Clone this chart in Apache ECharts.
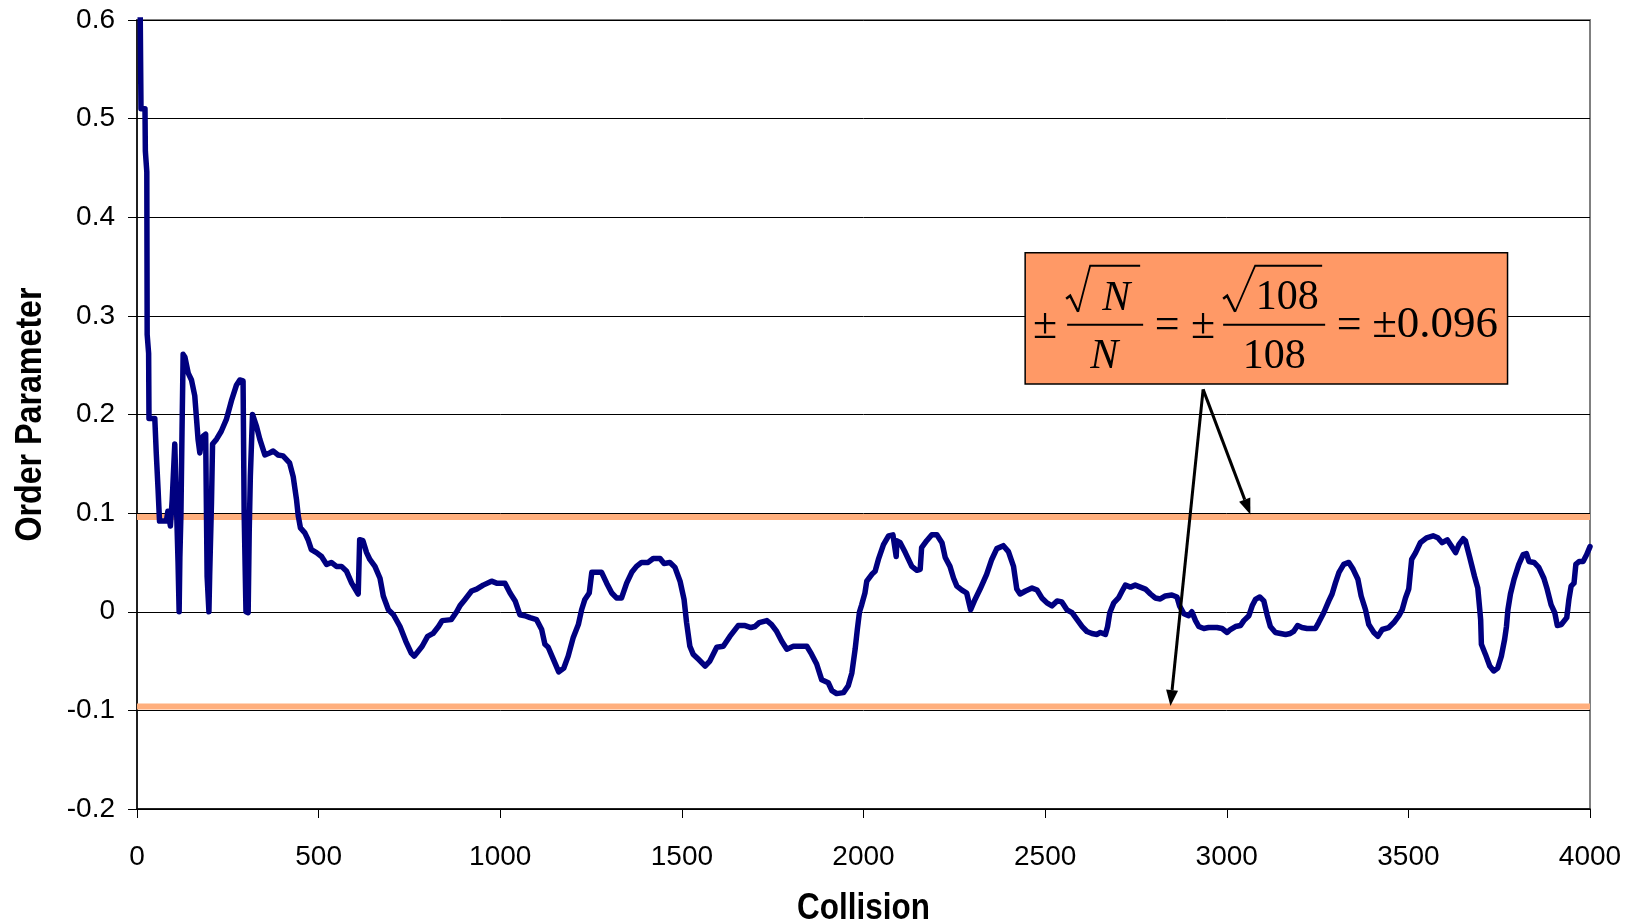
<!DOCTYPE html>
<html>
<head>
<meta charset="utf-8">
<title>Order Parameter vs Collision</title>
<script src="https://cdn.jsdelivr.net/npm/echarts@6/dist/echarts.min.js"></script>
<style>
  html, body { margin: 0; padding: 0; background: #fff; }
  #chart { width: 1629px; height: 924px; }
</style>
</head>
<body>
<div id="chart"></div>
<script>
// Axis ranges and tick spacing
const xTicks = { min: 0, max: 4000, step: 500 };
const yTicks = { min: -0.2, max: 0.6, step: 0.1 };

// Axis titles
const xTitle = 'Collision';
const yTitle = 'Order Parameter';

// Statistical band: ±sqrt(N)/N with N = 108
const bandLevels = [0.096, -0.096];

// Order parameter trace: [collision, order parameter]
const orderParameter = [
  [0, 1.0], [11, 0.51], [22, 0.51], [23, 0.467], [27, 0.446], [28, 0.281], [32, 0.262], [33, 0.196],
  [49, 0.196], [53, 0.161], [58, 0.124], [61, 0.10], [62, 0.092], [81, 0.092], [85, 0.102], [92, 0.087],
  [97, 0.114], [104, 0.17], [108, 0.168], [113, 0.05], [116, 0.0], [118, 0.055], [121, 0.10], [124, 0.185],
  [127, 0.261], [132, 0.258], [141, 0.242], [150, 0.235], [159, 0.219], [164, 0.195], [168, 0.175], [173, 0.161],
  [177, 0.171], [182, 0.178], [189, 0.18], [193, 0.036], [198, 0.0], [200, 0.036], [205, 0.11], [208, 0.17],
  [219, 0.175], [232, 0.183], [246, 0.195], [260, 0.214], [274, 0.23], [283, 0.235], [292, 0.234], [295, 0.10],
  [300, 0.0], [306, -0.001], [309, 0.083], [312, 0.137], [318, 0.2], [329, 0.188], [338, 0.175], [352, 0.159],
  [365, 0.161], [375, 0.163], [388, 0.159], [402, 0.158], [420, 0.151], [430, 0.137], [439, 0.114], [444, 0.097],
  [450, 0.085], [462, 0.080], [471, 0.073], [480, 0.063], [494, 0.060], [508, 0.056], [522, 0.048], [535, 0.050],
  [549, 0.046], [563, 0.046], [577, 0.041], [591, 0.029], [609, 0.018], [613, 0.073], [622, 0.072], [632, 0.060],
  [641, 0.053], [655, 0.046], [669, 0.034], [678, 0.016], [692, 0.002], [706, -0.003], [724, -0.015], [740, -0.03],
  [755, -0.042], [763, -0.045], [772, -0.041], [785, -0.035], [800, -0.025], [815, -0.022], [830, -0.015], [840, -0.009],
  [865, -0.008], [880, 0.0], [889, 0.006], [903, 0.0125], [921, 0.021], [935, 0.023], [953, 0.027], [976, 0.031],
  [990, 0.029], [1013, 0.029], [1027, 0.019], [1041, 0.011], [1054, -0.003], [1068, -0.004], [1082, -0.006], [1100, -0.008],
  [1114, -0.018], [1123, -0.033], [1132, -0.036], [1146, -0.048], [1161, -0.061], [1175, -0.057], [1187, -0.045], [1201, -0.026],
  [1215, -0.013], [1224, 0.002], [1233, 0.0125], [1245, 0.019], [1252, 0.040], [1279, 0.040], [1293, 0.029], [1307, 0.019],
  [1320, 0.014], [1334, 0.014], [1348, 0.029], [1362, 0.040], [1375, 0.046], [1389, 0.050], [1407, 0.050], [1421, 0.054],
  [1440, 0.054], [1451, 0.049], [1467, 0.050], [1481, 0.045], [1495, 0.031], [1506, 0.0125], [1513, -0.011], [1522, -0.035],
  [1531, -0.043], [1545, -0.048], [1564, -0.055], [1577, -0.050], [1596, -0.036], [1614, -0.035], [1632, -0.025], [1655, -0.014],
  [1674, -0.014], [1690, -0.016], [1701, -0.015], [1713, -0.011], [1734, -0.009], [1747, -0.013], [1761, -0.020], [1775, -0.030],
  [1789, -0.038], [1807, -0.035], [1844, -0.035], [1857, -0.043], [1871, -0.053], [1885, -0.069], [1903, -0.072], [1913, -0.080],
  [1926, -0.083], [1945, -0.082], [1958, -0.075], [1968, -0.062], [1977, -0.038], [1983, -0.018], [1989, 0.0], [1995, 0.007],
  [2004, 0.019], [2009, 0.031], [2023, 0.038], [2032, 0.041], [2041, 0.053], [2055, 0.068], [2069, 0.077], [2081, 0.078],
  [2090, 0.056], [2092, 0.072], [2101, 0.070], [2115, 0.060], [2133, 0.046], [2147, 0.042], [2156, 0.043], [2160, 0.065],
  [2174, 0.072], [2188, 0.078], [2202, 0.078], [2216, 0.070], [2225, 0.055], [2238, 0.046], [2248, 0.034], [2257, 0.026],
  [2271, 0.022], [2284, 0.019], [2295, 0.002], [2307, 0.0125], [2321, 0.023], [2339, 0.038], [2353, 0.053], [2367, 0.064],
  [2385, 0.067], [2399, 0.061], [2413, 0.046], [2422, 0.023], [2431, 0.018], [2446, 0.021], [2464, 0.024], [2478, 0.022],
  [2491, 0.014], [2505, 0.009], [2519, 0.006], [2533, 0.011], [2546, 0.010], [2560, 0.002], [2574, -0.001], [2588, -0.008],
  [2602, -0.015], [2615, -0.020], [2629, -0.022], [2643, -0.023], [2652, -0.021], [2666, -0.023], [2672, -0.015], [2678, -0.001],
  [2689, 0.009], [2702, 0.014], [2712, 0.021], [2721, 0.027], [2735, 0.025], [2748, 0.027], [2762, 0.025], [2776, 0.023],
  [2790, 0.018], [2803, 0.014], [2817, 0.013], [2831, 0.016], [2849, 0.017], [2863, 0.015], [2870, 0.006], [2882, -0.002],
  [2895, -0.004], [2904, 0.0], [2914, -0.009], [2923, -0.015], [2937, -0.017], [2950, -0.016], [2973, -0.016], [2987, -0.017],
  [3001, -0.021], [3010, -0.018], [3024, -0.015], [3038, -0.014], [3047, -0.009], [3061, -0.004], [3070, 0.006], [3079, 0.0125],
  [3091, 0.015], [3102, 0.011], [3111, -0.003], [3120, -0.015], [3134, -0.021], [3148, -0.022], [3162, -0.023], [3175, -0.022],
  [3184, -0.020], [3195, -0.014], [3207, -0.016], [3221, -0.017], [3244, -0.017], [3253, -0.011], [3267, -0.001], [3281, 0.011],
  [3290, 0.018], [3299, 0.029], [3309, 0.040], [3322, 0.048], [3336, 0.050], [3348, 0.043], [3361, 0.033], [3370, 0.016],
  [3382, 0.002], [3391, -0.013], [3405, -0.021], [3416, -0.025], [3428, -0.018], [3446, -0.016], [3460, -0.011], [3474, -0.004],
  [3483, 0.002], [3492, 0.014], [3501, 0.023], [3509, 0.053], [3520, 0.060], [3533, 0.070], [3550, 0.075], [3568, 0.077],
  [3581, 0.075], [3593, 0.070], [3607, 0.073], [3618, 0.067], [3630, 0.060], [3639, 0.068], [3651, 0.074], [3657, 0.072],
  [3669, 0.055], [3682, 0.036], [3691, 0.024], [3694, 0.0125], [3699, -0.008], [3701, -0.033], [3712, -0.043], [3724, -0.055],
  [3735, -0.060], [3746, -0.057], [3756, -0.045], [3765, -0.028], [3770, -0.015], [3774, 0.002], [3781, 0.018], [3791, 0.033],
  [3804, 0.048], [3816, 0.058], [3825, 0.059], [3832, 0.051], [3846, 0.050], [3859, 0.045], [3873, 0.034], [3882, 0.023],
  [3893, 0.007], [3903, -0.001], [3910, -0.014], [3921, -0.013], [3936, -0.006], [3942, 0.0125], [3948, 0.026], [3956, 0.029],
  [3961, 0.048], [3970, 0.051], [3981, 0.051], [3991, 0.058], [4000, 0.066]
];

// Formula callout anchored in data units: box corners, arrow origin and arrow tips
const noteBox = { c0: 2445, v0: 0.364, c1: 3773, v1: 0.231 };
const arrowFrom = [2935, 0.2255];
const arrowTips = [[3065, 0.0985], [2845, -0.0955]];

const sansFont = "'Liberation Sans', Arial, sans-serif";
const serifFont = "'Liberation Serif', 'Times New Roman', serif";

const chart = echarts.init(document.getElementById('chart'), null, { renderer: 'canvas' });

// Horizontal band lines spanning the full x range
const bandSeries = bandLevels.map(level => ({
  type: 'line',
  z: 1,
  silent: true,
  showSymbol: false,
  symbol: 'none',
  data: [[xTicks.min, level], [xTicks.max, level]],
  lineStyle: { color: '#FFAF7D', width: 6, cap: 'butt' }
}));

const option = {
  animation: false,
  backgroundColor: '#ffffff',
  grid: {
    left: 137, right: 39, top: 20, bottom: 115,
    show: true, borderColor: '#808080', borderWidth: 2, backgroundColor: '#ffffff'
  },
  xAxis: {
    type: 'value',
    min: xTicks.min, max: xTicks.max, interval: xTicks.step,
    axisLine: { onZero: false, lineStyle: { color: '#000', width: 1.5 } },
    axisTick: { show: true, length: 9, lineStyle: { color: '#000', width: 1 } },
    splitLine: { show: false },
    axisLabel: {
      fontSize: 28, color: '#000', fontFamily: sansFont, margin: 34,
      formatter: v => String(v)
    }
  },
  yAxis: {
    type: 'value',
    min: yTicks.min, max: yTicks.max, interval: yTicks.step,
    axisLine: { show: true, lineStyle: { color: '#000', width: 1.5 } },
    axisTick: { show: true, length: 9, lineStyle: { color: '#000', width: 1 } },
    splitLine: { show: true, lineStyle: { color: '#000', width: 1 } },
    axisLabel: {
      fontSize: 28, color: '#000', fontFamily: sansFont, margin: 22,
      formatter: v => String(Math.round(v * 10) / 10)
    }
  },
  series: bandSeries.concat([
    {
      type: 'line',
      z: 3,
      data: orderParameter,
      showSymbol: false,
      symbol: 'none',
      clip: true,
      lineStyle: { color: '#000080', width: 5.5, join: 'round', cap: 'round' }
    }
  ])
};

chart.setOption(option);

// Axis titles (condensed bold) and the formula callout
function buildOverlay() {
  const px = (c, v) => chart.convertToPixel({ gridIndex: 0 }, [c, v]);
  const g = [];

  const lo = px(xTicks.min, yTicks.min);
  const hi = px(xTicks.max, yTicks.max);
  const titleFont = "bold 37px " + sansFont;
  g.push({
    type: 'text', z: 40,
    x: (lo[0] + hi[0]) / 2, y: lo[1] + 100, scaleX: 0.85,
    style: { text: xTitle, font: titleFont, fill: '#000', align: 'center', verticalAlign: 'middle' }
  });
  g.push({
    type: 'text', z: 40,
    x: 31, y: (lo[1] + hi[1]) / 2, rotation: Math.PI / 2, scaleX: 0.87,
    style: { text: yTitle, font: titleFont, fill: '#000', align: 'center', verticalAlign: 'middle' }
  });

  const tl = px(noteBox.c0, noteBox.v0);
  const br = px(noteBox.c1, noteBox.v1);
  const bx = tl[0], by = tl[1];

  g.push({
    type: 'rect', z: 50,
    shape: { x: bx, y: by, width: br[0] - bx, height: br[1] - by },
    style: { fill: '#FF9966', stroke: '#000', lineWidth: 1.5 }
  });

  const txt = (x, y, s, size, italic) => ({
    type: 'text', z: 51,
    x: bx + x, y: by + y,
    style: {
      text: s, fill: '#000', font: (italic ? 'italic ' : '') + size + 'px ' + serifFont,
      align: 'center', verticalAlign: 'middle'
    }
  });
  const seg = (pts, w) => ({
    type: 'polyline', z: 51,
    shape: { points: pts.map(p => [bx + p[0], by + p[1]]) },
    style: { stroke: '#000', lineWidth: w, fill: null, lineJoin: 'miter' }
  });

  // ± √N / N
  g.push(txt(20, 74, '±', 44, false));
  g.push(seg([[42, 72], [118, 72]], 2));
  g.push(seg([[41, 46], [45, 43], [53, 59]], 2.5));
  g.push(seg([[53, 59], [65, 13], [115, 13]], 1.8));
  g.push(txt(91, 46, 'N', 42, true));
  g.push(txt(79, 104, 'N', 42, true));
  // = ± √108 / 108
  g.push(txt(142, 74, '=', 44, false));
  g.push(txt(178, 74, '±', 44, false));
  g.push(seg([[198, 72], [300, 72]], 2));
  g.push(seg([[198, 46], [202, 43], [210, 59]], 2.5));
  g.push(seg([[210, 59], [230, 13], [297, 13]], 1.8));
  g.push(txt(262, 45, '108', 42, false));
  g.push(txt(249, 104, '108', 42, false));
  // = ±0.096
  g.push(txt(324, 74, '=', 44, false));
  g.push(txt(410, 72, '±0.096', 45, false));

  // Arrows to the band lines
  const o = px(arrowFrom[0], arrowFrom[1]);
  arrowTips.forEach(t => {
    const p = px(t[0], t[1]);
    const dx = p[0] - o[0], dy = p[1] - o[1];
    const len = Math.hypot(dx, dy);
    const ux = dx / len, uy = dy / len;
    const hl = 16, hw = 6;
    const bxh = p[0] - ux * hl, byh = p[1] - uy * hl;
    g.push({
      type: 'line', z: 52,
      shape: { x1: o[0], y1: o[1], x2: bxh, y2: byh },
      style: { stroke: '#000', lineWidth: 3 }
    });
    g.push({
      type: 'polygon', z: 52,
      shape: { points: [[p[0], p[1]], [bxh - uy * hw, byh + ux * hw], [bxh + uy * hw, byh - ux * hw]] },
      style: { fill: '#000' }
    });
  });

  chart.setOption({ graphic: g });
}
buildOverlay();
</script>
</body>
</html>
